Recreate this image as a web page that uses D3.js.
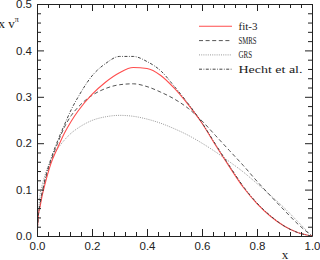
<!DOCTYPE html>
<html>
<head>
<meta charset="utf-8">
<script src="https://cdn.jsdelivr.net/npm/d3@7"></script>
<style>
  body { margin: 0; background: #fff; }
  svg { display: block; }
</style>
</head>
<body>
<script>
// DATA
var xGrid = [0, 0.005, 0.01, 0.02, 0.03, 0.05, 0.075, 0.1, 0.125, 0.15, 0.2, 0.25, 0.3, 0.35, 0.4, 0.45, 0.5, 0.55, 0.6, 0.65, 0.7, 0.75, 0.8, 0.85, 0.9, 0.95, 1.0];
var fit3  = [0, 0.045, 0.06, 0.09, 0.114, 0.155, 0.19, 0.222, 0.248, 0.27, 0.305, 0.332, 0.352, 0.363, 0.361, 0.346, 0.318, 0.283, 0.243, 0.195, 0.149, 0.105, 0.07, 0.042, 0.021, 0.007, 0];
var smrs  = [0, 0.045, 0.065, 0.095, 0.12, 0.16, 0.2, 0.235, 0.26, 0.278, 0.303, 0.318, 0.326, 0.328, 0.322, 0.31, 0.295, 0.275, 0.248, 0.216, 0.184, 0.152, 0.118, 0.086, 0.055, 0.025, 0];
var grs   = [0, 0.05, 0.083, 0.113, 0.133, 0.162, 0.188, 0.207, 0.222, 0.233, 0.249, 0.257, 0.26, 0.258, 0.252, 0.243, 0.231, 0.217, 0.2, 0.181, 0.16, 0.138, 0.113, 0.087, 0.06, 0.03, 0];
var hecht = [0, 0.045, 0.065, 0.098, 0.125, 0.165, 0.205, 0.24, 0.273, 0.3, 0.345, 0.372, 0.387, 0.387, 0.376, 0.356, 0.322, 0.285, 0.244, 0.197, 0.151, 0.107, 0.071, 0.043, 0.021, 0.007, 0];
var seriesNames = ["fit-3", "SMRS", "GRS", "Hecht et al."];
var xTicks = [0, 0.2, 0.4, 0.6, 0.8, 1.0];
var yTicks = [0, 0.1, 0.2, 0.3, 0.4, 0.5];

// STYLES FOR EACH SERIES
var seriesStyle = [
  {color: "#ff4d4d", dash: null, width: 1.1, textLen: 19},
  {color: "#555", dash: "4,2.6", width: 1, textLen: 18},
  {color: "#999", dash: "1,1.2", width: 1, textLen: 13.5},
  {color: "#444", dash: "3,1.5,0.8,1.5", width: 1, textLen: 64}
];

var w = 320, h = 260;
var plotL = 37, plotR = 312, plotT = 4, plotB = 236;

var x = d3.scaleLinear().domain([0, 1]).range([plotL, plotR]);
var y = d3.scaleLinear().domain([0, 0.5]).range([plotB, plotT]);

const svg = d3.select("body").append("svg").attr("width", w).attr("height", h).style("background", "#fff");

svg.append("clipPath").attr("id", "plotclip")
  .append("rect").attr("x", plotL).attr("y", plotT).attr("width", plotR - plotL).attr("height", plotB - plotT);

// CURVES
var allSeries = [fit3, smrs, grs, hecht];
var line = d3.line()
  .x(function(d, i) { return x(xGrid[i]); })
  .y(function(d) { return y(d); })
  .curve(d3.curveMonotoneX);

var drawOrder = [2, 1, 0, 3];
svg.append("g").attr("clip-path", "url(#plotclip)")
  .selectAll("path").data(drawOrder).enter().append("path")
  .attr("d", function(k) { return line(allSeries[k]); })
  .attr("fill", "none")
  .attr("stroke", function(k) { return seriesStyle[k].color; })
  .attr("stroke-width", function(k) { return seriesStyle[k].width; })
  .attr("stroke-dasharray", function(k) { return seriesStyle[k].dash; });

// AXES (TICKS POINT INWARD ON ALL FOUR SIDES)
var xMinor = d3.range(0, 1.0001, 0.04).filter(function(v) { return Math.abs(v * 5 - Math.round(v * 5)) > 1e-6; });
var yMinor = d3.range(0, 0.5001, 0.02).filter(function(v) { return Math.abs(v * 10 - Math.round(v * 10)) > 1e-6; });
var fmt = d3.format(".1f");

function addAxis(axisFn, scale, major, minor, tr, labels, pad) {
  var gMin = svg.append("g").attr("transform", tr)
    .call(axisFn(scale).tickValues(minor).tickSizeInner(-4).tickSizeOuter(0).tickFormat(""));
  gMin.select(".domain").remove();
  var g = svg.append("g").attr("transform", tr)
    .call(axisFn(scale).tickValues(major).tickSizeInner(-7).tickSizeOuter(0).tickPadding(pad)
      .tickFormat(labels ? fmt : ""));
  return g;
}

addAxis(d3.axisBottom, x, xTicks, xMinor, "translate(0," + plotB + ")", true, 6);
addAxis(d3.axisTop, x, xTicks, xMinor, "translate(0," + plotT + ")", false, 3);
addAxis(d3.axisLeft, y, yTicks, yMinor, "translate(" + plotL + ",0)", true, 5);
addAxis(d3.axisRight, y, yTicks, yMinor, "translate(" + plotR + ",0)", false, 3);

svg.selectAll(".tick line, .domain").attr("stroke", "#222").attr("stroke-width", 1);
svg.selectAll(".tick text").attr("font-family", "Liberation Sans, Arial, sans-serif")
  .attr("font-size", 11.5).attr("fill", "#222");

// AXIS TITLES
svg.append("text").attr("x", 285).attr("y", 259).attr("text-anchor", "middle")
  .attr("font-family", "Liberation Serif, serif").attr("font-size", 13).attr("fill", "#222").text("x");

var yt = svg.append("text").attr("x", -1.5).attr("y", 28)
  .attr("font-family", "Liberation Serif, serif").attr("font-size", 13).attr("fill", "#222");
yt.append("tspan").text("x v");
yt.append("tspan").attr("dy", -6).attr("font-size", 8).text("π");

// LEGEND
var legend = svg.append("g").selectAll("g").data(seriesNames).enter().append("g")
  .attr("transform", function(d, i) { return "translate(0," + (26.3 + i * 14.3) + ")"; });
legend.append("line").attr("x1", 199).attr("x2", 232).attr("y1", 0).attr("y2", 0)
  .attr("stroke", function(d, i) { return seriesStyle[i].color; })
  .attr("stroke-width", function(d, i) { return seriesStyle[i].width; })
  .attr("stroke-dasharray", function(d, i) { return seriesStyle[i].dash; });
legend.append("text").attr("x", 238.5).attr("y", 3.4)
  .attr("font-family", "Liberation Serif, serif").attr("font-size", 10).attr("fill", "#222")
  .attr("textLength", function(d, i) { return seriesStyle[i].textLen; })
  .attr("lengthAdjust", "spacingAndGlyphs")
  .text(function(d) { return d; });
</script>
</body>
</html>
